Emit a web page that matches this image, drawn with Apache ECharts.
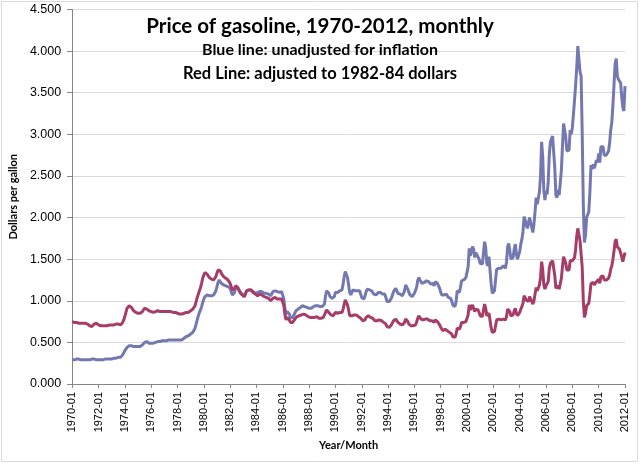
<!DOCTYPE html>
<html>
<head>
<meta charset="utf-8">
<script src="https://cdn.jsdelivr.net/npm/echarts@6/dist/echarts.min.js"></script>
<style>
  html, body { margin: 0; padding: 0; background: #fff; }
  #chart { width: 640px; height: 464px; }
</style>
</head>
<body>
<div id="chart"></div>
<script>
// monthly price, dollars per gallon, 1970-01 .. 2012-01 (one line per year)
var nominalPrice = [
  0.29,0.29,0.29,0.29,0.30,0.30,0.30,0.29,0.29,0.29,0.29,0.29,
  0.29,0.29,0.29,0.29,0.29,0.30,0.30,0.30,0.30,0.29,0.29,0.29,
  0.29,0.29,0.29,0.29,0.29,0.30,0.30,0.30,0.30,0.30,0.30,0.30,
  0.30,0.30,0.31,0.31,0.31,0.32,0.32,0.32,0.32,0.33,0.35,0.37,
  0.40,0.42,0.44,0.45,0.46,0.46,0.46,0.46,0.45,0.45,0.45,0.45,
  0.45,0.45,0.45,0.46,0.47,0.49,0.50,0.51,0.51,0.50,0.49,0.49,
  0.49,0.49,0.49,0.49,0.50,0.51,0.51,0.51,0.51,0.51,0.52,0.52,
  0.52,0.52,0.52,0.53,0.53,0.53,0.53,0.53,0.53,0.53,0.53,0.53,
  0.53,0.53,0.53,0.53,0.53,0.54,0.55,0.56,0.57,0.57,0.58,0.59,
  0.60,0.61,0.62,0.63,0.67,0.72,0.77,0.82,0.86,0.89,0.93,0.98,
  1.02,1.05,1.07,1.07,1.06,1.06,1.06,1.06,1.07,1.07,1.09,1.12,
  1.17,1.22,1.25,1.23,1.21,1.19,1.19,1.19,1.18,1.18,1.17,1.16,
  1.15,1.11,1.07,1.06,1.10,1.15,1.16,1.15,1.13,1.11,1.10,1.08,
  1.06,1.05,1.07,1.12,1.13,1.13,1.13,1.13,1.12,1.11,1.10,1.09,
  1.10,1.10,1.10,1.11,1.12,1.11,1.10,1.09,1.09,1.09,1.09,1.08,
  1.06,1.06,1.08,1.11,1.12,1.12,1.12,1.11,1.10,1.10,1.11,1.11,
  1.10,1.02,0.90,0.84,0.87,0.87,0.84,0.80,0.79,0.80,0.82,0.85,
  0.88,0.89,0.90,0.91,0.92,0.93,0.94,0.94,0.93,0.93,0.92,0.92,
  0.91,0.91,0.91,0.92,0.93,0.93,0.94,0.95,0.94,0.93,0.93,0.93,
  0.93,0.94,0.96,1.06,1.12,1.12,1.09,1.05,1.03,1.03,1.03,1.05,
  1.10,1.10,1.10,1.10,1.12,1.13,1.13,1.20,1.29,1.35,1.34,1.28,
  1.19,1.10,1.07,1.10,1.13,1.13,1.12,1.13,1.12,1.11,1.12,1.08,
  1.04,1.02,1.02,1.06,1.11,1.14,1.14,1.13,1.12,1.12,1.11,1.08,
  1.07,1.07,1.08,1.10,1.11,1.10,1.09,1.08,1.07,1.08,1.04,0.99,
  0.98,0.99,0.99,1.03,1.07,1.11,1.13,1.15,1.12,1.09,1.09,1.08,
  1.07,1.06,1.06,1.12,1.19,1.18,1.14,1.10,1.07,1.06,1.05,1.07,
  1.09,1.10,1.16,1.24,1.28,1.25,1.23,1.21,1.21,1.22,1.24,1.24,
  1.24,1.23,1.21,1.20,1.21,1.21,1.18,1.23,1.24,1.21,1.19,1.15,
  1.10,1.07,1.06,1.07,1.09,1.08,1.07,1.04,1.03,1.03,1.00,0.95,
  0.93,0.93,0.99,1.12,1.12,1.10,1.16,1.24,1.26,1.25,1.26,1.28,
  1.30,1.41,1.63,1.54,1.52,1.65,1.62,1.52,1.58,1.55,1.57,1.50,
  1.45,1.47,1.44,1.58,1.71,1.64,1.45,1.42,1.53,1.36,1.20,1.09,
  1.11,1.12,1.25,1.38,1.40,1.39,1.40,1.39,1.39,1.42,1.42,1.39,
  1.47,1.65,1.69,1.60,1.50,1.49,1.52,1.62,1.68,1.56,1.50,1.48,
  1.59,1.68,1.74,1.83,2.01,1.97,1.91,1.87,1.87,2.00,2.01,1.88,
  1.82,1.92,2.07,2.24,2.16,2.16,2.31,2.50,2.91,2.72,2.32,2.21,
  2.32,2.28,2.43,2.76,2.91,2.90,2.98,2.98,2.59,2.27,2.24,2.33,
  2.27,2.28,2.57,2.86,3.13,3.05,2.96,2.80,2.82,2.81,3.05,3.00,
  3.08,3.10,3.41,3.60,3.80,4.06,4.07,3.75,3.70,3.00,2.15,1.70,
  1.79,2.00,1.98,2.07,2.31,2.63,2.58,2.64,2.59,2.59,2.69,2.66,
  2.77,2.66,2.85,2.86,2.85,2.75,2.74,2.75,2.73,2.80,2.90,3.05,
  3.15,3.35,3.60,3.85,3.91,3.70,3.66,3.65,3.62,3.45,3.32,3.28,
  3.58
];

// same months, in 1982-84 dollars
var realPrice = [
  0.75,0.74,0.74,0.74,0.74,0.74,0.73,0.73,0.73,0.73,0.73,0.72,
  0.73,0.73,0.72,0.72,0.70,0.69,0.69,0.70,0.72,0.73,0.73,0.72,
  0.71,0.70,0.70,0.70,0.70,0.70,0.70,0.70,0.70,0.71,0.71,0.71,
  0.71,0.71,0.71,0.72,0.72,0.72,0.72,0.71,0.71,0.72,0.74,0.77,
  0.81,0.86,0.91,0.93,0.94,0.93,0.92,0.90,0.88,0.87,0.86,0.86,
  0.85,0.85,0.85,0.86,0.87,0.89,0.91,0.91,0.90,0.89,0.88,0.87,
  0.87,0.87,0.86,0.86,0.87,0.87,0.88,0.88,0.87,0.87,0.87,0.87,
  0.87,0.87,0.87,0.87,0.87,0.87,0.87,0.87,0.86,0.86,0.86,0.85,
  0.85,0.84,0.84,0.84,0.84,0.84,0.85,0.85,0.86,0.86,0.86,0.87,
  0.88,0.89,0.90,0.91,0.94,0.99,1.04,1.08,1.12,1.16,1.21,1.27,
  1.31,1.34,1.35,1.32,1.30,1.28,1.27,1.26,1.26,1.25,1.26,1.29,
  1.33,1.37,1.39,1.36,1.33,1.31,1.29,1.28,1.27,1.26,1.25,1.24,
  1.21,1.17,1.13,1.12,1.15,1.18,1.18,1.16,1.13,1.10,1.08,1.07,
  1.06,1.05,1.07,1.12,1.13,1.13,1.13,1.13,1.11,1.10,1.09,1.08,
  1.07,1.06,1.07,1.08,1.08,1.07,1.06,1.05,1.05,1.04,1.04,1.03,
  1.01,1.00,1.01,1.03,1.04,1.04,1.03,1.02,1.01,1.02,1.02,1.02,
  1.01,0.94,0.83,0.77,0.80,0.80,0.77,0.74,0.73,0.74,0.75,0.78,
  0.80,0.81,0.82,0.82,0.83,0.83,0.84,0.84,0.83,0.83,0.82,0.81,
  0.80,0.80,0.80,0.80,0.80,0.80,0.80,0.81,0.80,0.79,0.79,0.79,
  0.79,0.80,0.81,0.86,0.89,0.88,0.86,0.84,0.83,0.83,0.82,0.83,
  0.86,0.86,0.85,0.85,0.86,0.86,0.86,0.90,0.96,1.01,1.00,0.95,
  0.89,0.82,0.80,0.82,0.84,0.83,0.82,0.83,0.82,0.81,0.82,0.79,
  0.77,0.76,0.76,0.77,0.80,0.82,0.82,0.81,0.80,0.80,0.79,0.77,
  0.76,0.76,0.76,0.77,0.77,0.76,0.76,0.75,0.74,0.74,0.72,0.69,
  0.68,0.68,0.68,0.71,0.73,0.76,0.77,0.78,0.76,0.74,0.73,0.72,
  0.71,0.71,0.71,0.74,0.78,0.78,0.75,0.72,0.70,0.70,0.69,0.70,
  0.71,0.71,0.74,0.79,0.82,0.80,0.78,0.77,0.77,0.77,0.78,0.78,
  0.78,0.77,0.76,0.75,0.76,0.76,0.74,0.77,0.77,0.75,0.74,0.71,
  0.68,0.66,0.64,0.64,0.66,0.66,0.64,0.62,0.62,0.61,0.60,0.57,
  0.56,0.56,0.60,0.67,0.67,0.66,0.69,0.74,0.75,0.74,0.74,0.75,
  0.76,0.83,0.95,0.89,0.88,0.95,0.93,0.87,0.90,0.89,0.89,0.86,
  0.82,0.83,0.81,0.89,0.96,0.91,0.82,0.80,0.85,0.76,0.67,0.62,
  0.63,0.63,0.70,0.77,0.78,0.78,0.78,0.77,0.77,0.78,0.78,0.77,
  0.81,0.90,0.92,0.87,0.82,0.81,0.83,0.88,0.91,0.85,0.82,0.81,
  0.86,0.90,0.93,0.97,1.06,1.04,1.01,0.99,0.99,1.05,1.05,0.99,
  0.96,1.00,1.08,1.16,1.12,1.12,1.19,1.28,1.47,1.37,1.19,1.14,
  1.18,1.16,1.23,1.39,1.45,1.45,1.48,1.48,1.30,1.15,1.14,1.18,
  1.14,1.14,1.27,1.41,1.53,1.49,1.45,1.37,1.38,1.37,1.48,1.46,
  1.48,1.49,1.52,1.62,1.78,1.87,1.87,1.72,1.70,1.40,1.00,0.80,
  0.85,0.94,0.93,0.97,1.08,1.21,1.19,1.22,1.19,1.19,1.23,1.22,
  1.26,1.21,1.29,1.30,1.30,1.25,1.25,1.25,1.24,1.27,1.31,1.38,
  1.42,1.50,1.60,1.71,1.74,1.65,1.63,1.62,1.60,1.53,1.47,1.45,
  1.58
];

var titleLines = [
  'Price of gasoline, 1970-2012, monthly',
  'Blue line: unadjusted for inflation',
  'Red Line: adjusted to 1982-84 dollars'
];
var yTicks = [0, 0.5, 1, 1.5, 2, 2.5, 3, 3.5, 4, 4.5];

// month labels 1970-01 .. 2012-01
var months = [];
for (var y = 1970; y <= 2012; y++) {
  for (var m = 1; m <= 12; m++) {
    if (y === 2012 && m > 1) break;
    months.push(y + '-' + (m < 10 ? '0' + m : m));
  }
}

var myChart = echarts.init(document.getElementById('chart'));

function everyTwoYears(index) {
  return index % 24 === 0;
}

var option = {
  animation: false,
  backgroundColor: '#ffffff',
  title: [
    {text: titleLines[0], left: 'center', top: 16, padding: 0,
      textStyle: {fontFamily: 'Lato', fontWeight: 'bold', fontSize: 20.5, color: '#000'}},
    {text: titleLines[1], left: 'center', top: 42, padding: 0,
      textStyle: {fontFamily: 'Lato', fontWeight: 'bold', fontSize: 16, color: '#000'}},
    {text: titleLines[2], left: 'center', top: 65, padding: 0,
      textStyle: {fontFamily: 'Lato', fontWeight: 'bold', fontSize: 16.5, color: '#000'}}
  ],
  graphic: [{
    type: 'rect',
    shape: {x: 1.5, y: 1.5, width: 636, height: 460},
    style: {fill: 'none', stroke: '#d9d9d9', lineWidth: 1},
    silent: true
  }],
  grid: {left: 67, right: 15, top: 9.5, bottom: 80},
  xAxis: {
    type: 'category',
    data: months,
    boundaryGap: false,
    name: 'Year/Month',
    nameLocation: 'middle',
    nameGap: 55,
    nameTextStyle: {fontFamily: 'Lato', fontWeight: 'bold', fontSize: 11, color: '#000'},
    axisLine: {lineStyle: {color: '#868686', width: 1}},
    axisTick: {interval: everyTwoYears, length: 4, lineStyle: {color: '#868686'}},
    axisLabel: {
      interval: everyTwoYears,
      rotate: 90,
      margin: 8,
      fontFamily: 'Liberation Sans',
      fontSize: 11,
      color: '#000'
    },
    splitLine: {show: false}
  },
  yAxis: {
    type: 'value',
    min: yTicks[0],
    max: yTicks[yTicks.length - 1],
    interval: 0.5,
    name: 'Dollars per gallon',
    nameLocation: 'middle',
    nameGap: 43,
    nameTextStyle: {fontFamily: 'Lato', fontWeight: 'bold', fontSize: 11, color: '#000'},
    axisLine: {show: true, lineStyle: {color: '#868686', width: 1}},
    axisTick: {show: true, length: 5, lineStyle: {color: '#868686'}},
    axisLabel: {
      margin: 11,
      fontFamily: 'Liberation Sans',
      fontSize: 12.5,
      color: '#000',
      formatter: function (v) { return v.toFixed(3); }
    },
    splitLine: {lineStyle: {color: '#d9d9d9', width: 1}}
  },
  series: [
    {
      name: 'unadjusted',
      type: 'line',
      data: nominalPrice,
      showSymbol: false,
      lineStyle: {color: '#7478b0', width: 3},
      itemStyle: {color: '#7478b0'}
    },
    {
      name: 'adjusted',
      type: 'line',
      data: realPrice,
      showSymbol: false,
      lineStyle: {color: '#a63d69', width: 3},
      itemStyle: {color: '#a63d69'}
    }
  ]
};

myChart.setOption(option);
window.addEventListener('resize', function () {
  myChart.resize();
});
</script>
</body>
</html>
